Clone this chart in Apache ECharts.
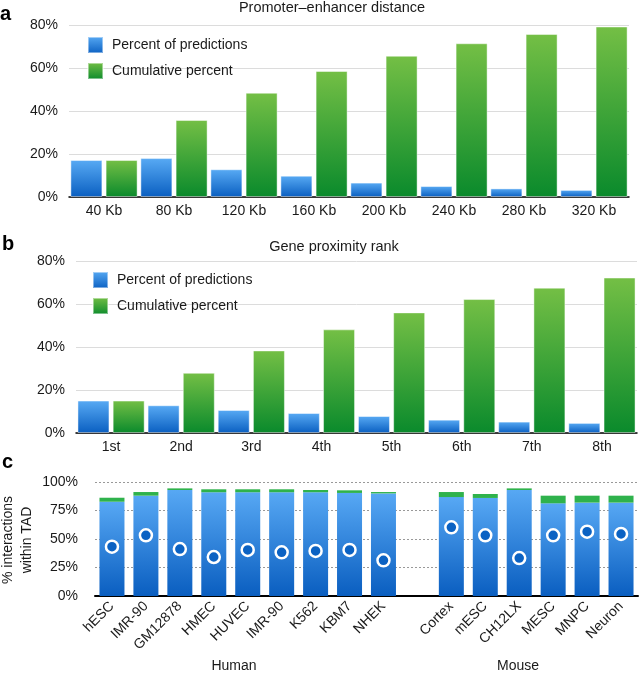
<!DOCTYPE html>
<html>
<head>
<meta charset="utf-8">
<script src="https://cdn.jsdelivr.net/npm/echarts@6/dist/echarts.min.js"></script>
<style>
  html, body { margin: 0; padding: 0; background: #fff; }
  #main { width: 639px; height: 675px; }
</style>
</head>
<body>
<div id="main"></div>
<script>
// panel a - promoter-enhancer distance
const distCats = ['40 Kb', '80 Kb', '120 Kb', '160 Kb', '200 Kb', '240 Kb', '280 Kb', '320 Kb'];
const distPercent = [17.2, 18.1, 12.9, 9.9, 6.7, 5.1, 4.0, 3.3];
const distCumulative = [17.2, 35.8, 48.5, 58.6, 65.7, 71.5, 75.8, 79.3];

// panel b - gene proximity rank
const rankCats = ['1st', '2nd', '3rd', '4th', '5th', '6th', '7th', '8th'];
const rankPercent = [15.1, 12.9, 10.7, 9.3, 7.9, 6.2, 5.3, 4.7];
const rankCumulative = [15.1, 28.0, 38.4, 48.2, 56.1, 62.3, 67.6, 72.3];

// panel c - interactions within TAD ('' = spacer between human and mouse)
const tadCells = ['hESC', 'IMR-90', 'GM12878', 'HMEC', 'HUVEC', 'IMR-90', 'K562', 'KBM7', 'NHEK', '',
  'Cortex', 'mESC', 'CH12LX', 'MESC', 'MNPC', 'Neuron'];
const tadWithin = [82.7, 88.0, 93.0, 91.0, 91.0, 91.0, 91.0, 90.4, 90.0, '-', 86.8, 86.0, 93.0, 81.3, 81.9, 81.9];
const tadTotal = [86.2, 91.2, 94.4, 93.6, 93.6, 93.6, 93.0, 92.7, 91.2, '-', 91.2, 89.5, 94.4, 88.0, 88.0, 88.0];
const tadRandom = [43.3, 53.2, 41.2, 34.2, 40.4, 38.3, 39.5, 40.4, 31.3, '-', 60.2, 53.2, 33.3, 53.2, 56.4, 54.4];

const pctTicks = [0, 20, 40, 60, 80];
const tadTicks = [0, 25, 50, 75, 100];

const FONT = 'Liberation Sans, Arial, sans-serif';
const TXT = '#1a1a1a';

const blueGrad = () => new echarts.graphic.LinearGradient(0, 0, 0, 1, [
  { offset: 0, color: '#58aaf4' }, { offset: 1, color: '#0a5fc1' }]);
const greenGrad = () => new echarts.graphic.LinearGradient(0, 0, 0, 1, [
  { offset: 0, color: '#74bf45' }, { offset: 1, color: '#0a8a2c' }]);

const tadExtra = tadTotal.map((v, i) => v === '-' ? '-' : +(v - tadWithin[i]).toFixed(1));

function pctAxis(gridIndex, ticks) {
  return {
    type: 'value', gridIndex: gridIndex,
    min: ticks[0], max: ticks[ticks.length - 1], interval: ticks[1] - ticks[0],
    axisLine: { show: false }, axisTick: { show: false },
    axisLabel: { formatter: '{value}%', color: TXT, fontSize: 14, fontFamily: FONT, margin: 11 },
    splitLine: { lineStyle: { color: '#dcdcdc', width: 1 } }
  };
}

function catAxis(gridIndex, cats) {
  return {
    type: 'category', gridIndex: gridIndex, data: cats,
    axisLine: { lineStyle: { color: '#000', width: 1.5 } },
    axisTick: { show: false },
    axisLabel: { color: TXT, fontSize: 14, fontFamily: FONT, margin: 7 }
  };
}

function legendAt(left, top) {
  return {
    left: left, top: top, orient: 'vertical', itemWidth: 15, itemHeight: 16, itemGap: 8,
    padding: 0, icon: 'rect', selectedMode: false,
    data: ['Percent of predictions', 'Cumulative percent'],
    textStyle: { color: TXT, fontSize: 14, fontFamily: FONT, padding: [0, 0, 0, 4] }
  };
}

const barStyle = (grad) => ({ color: grad, borderColor: 'rgba(255,255,255,0.45)', borderWidth: 1 });

const chart = echarts.init(document.getElementById('main'), null, { renderer: 'canvas' });

chart.setOption({
  animation: false,
  backgroundColor: '#fff',
  title: [
    { text: 'Promoter\u2013enhancer distance', left: 327, top: -5, textAlign: 'center',
      textStyle: { fontSize: 14.5, fontWeight: 'normal', color: TXT, fontFamily: FONT } },
    { text: 'Gene proximity rank', left: 329, top: 234, textAlign: 'center',
      textStyle: { fontSize: 14.5, fontWeight: 'normal', color: TXT, fontFamily: FONT } }
  ],
  legend: [legendAt(87, 36), legendAt(92, 271)],
  grid: [
    { left: 69, right: 10, top: 25, height: 172 },
    { left: 76, right: 2, top: 261, height: 172 },
    { left: 95, right: 1, top: 482, height: 114 }
  ],
  xAxis: [
    catAxis(0, distCats),
    catAxis(1, rankCats),
    Object.assign(catAxis(2, tadCells), {
      axisLine: { lineStyle: { color: '#000', width: 2 } },
      axisLabel: { color: TXT, fontSize: 14, fontFamily: FONT, rotate: 45, margin: 8, interval: 0 }
    })
  ],
  yAxis: [
    pctAxis(0, pctTicks),
    pctAxis(1, pctTicks),
    Object.assign(pctAxis(2, tadTicks), {
      axisLabel: { formatter: '{value}%', color: TXT, fontSize: 14, fontFamily: FONT, margin: 17 },
      splitLine: { lineStyle: { color: '#999', width: 1, type: [2, 2] } }
    })
  ],
  series: [
    { name: 'Percent of predictions', type: 'bar', xAxisIndex: 0, yAxisIndex: 0, data: distPercent,
      barWidth: 32, barGap: '10%', itemStyle: barStyle(blueGrad()) },
    { name: 'Cumulative percent', type: 'bar', xAxisIndex: 0, yAxisIndex: 0, data: distCumulative,
      barWidth: 32, barGap: '10%', itemStyle: barStyle(greenGrad()) },
    { name: 'Percent of predictions', type: 'bar', xAxisIndex: 1, yAxisIndex: 1, data: rankPercent,
      barWidth: 32, barGap: '10%', itemStyle: barStyle(blueGrad()) },
    { name: 'Cumulative percent', type: 'bar', xAxisIndex: 1, yAxisIndex: 1, data: rankCumulative,
      barWidth: 32, barGap: '10%', itemStyle: barStyle(greenGrad()) },
    // panel c stacked: within TAD (blue) + rest of total (green)
    { name: 'within', type: 'bar', stack: 'tad', xAxisIndex: 2, yAxisIndex: 2, data: tadWithin,
      barWidth: 25, itemStyle: { color: new echarts.graphic.LinearGradient(0, 0, 0, 1, [
        { offset: 0, color: '#57a8f4' }, { offset: 1, color: '#0a5ec0' }]) } },
    { name: 'total', type: 'bar', stack: 'tad', xAxisIndex: 2, yAxisIndex: 2, data: tadExtra,
      barWidth: 25, itemStyle: { color: '#2fb24c' } },
    { name: 'random', type: 'scatter', xAxisIndex: 2, yAxisIndex: 2, data: tadRandom, z: 5,
      symbol: 'circle', symbolSize: 12,
      itemStyle: { color: '#0b62c3', borderColor: '#fff', borderWidth: 2.5, opacity: 1 } }
  ],
  graphic: [
    { type: 'text', left: 0, top: 4, style: { text: 'a', fontSize: 20, fontWeight: 'bold', fontFamily: FONT, fill: '#000' } },
    { type: 'text', left: 2, top: 234, style: { text: 'b', fontSize: 20, fontWeight: 'bold', fontFamily: FONT, fill: '#000' } },
    { type: 'text', left: 2, top: 452, style: { text: 'c', fontSize: 20, fontWeight: 'bold', fontFamily: FONT, fill: '#000' } },
    { type: 'text', x: 8, y: 540, rotation: Math.PI / 2,
      style: { text: '% interactions', fontSize: 14, fontFamily: FONT, fill: TXT, align: 'center', verticalAlign: 'middle' } },
    { type: 'text', x: 27, y: 540, rotation: Math.PI / 2,
      style: { text: 'within TAD', fontSize: 14, fontFamily: FONT, fill: TXT, align: 'center', verticalAlign: 'middle' } },
    { type: 'text', x: 234, y: 666,
      style: { text: 'Human', fontSize: 14, fontFamily: FONT, fill: TXT, align: 'center', verticalAlign: 'middle' } },
    { type: 'text', x: 518, y: 666,
      style: { text: 'Mouse', fontSize: 14, fontFamily: FONT, fill: TXT, align: 'center', verticalAlign: 'middle' } }
  ]
});
</script>
</body>
</html>
